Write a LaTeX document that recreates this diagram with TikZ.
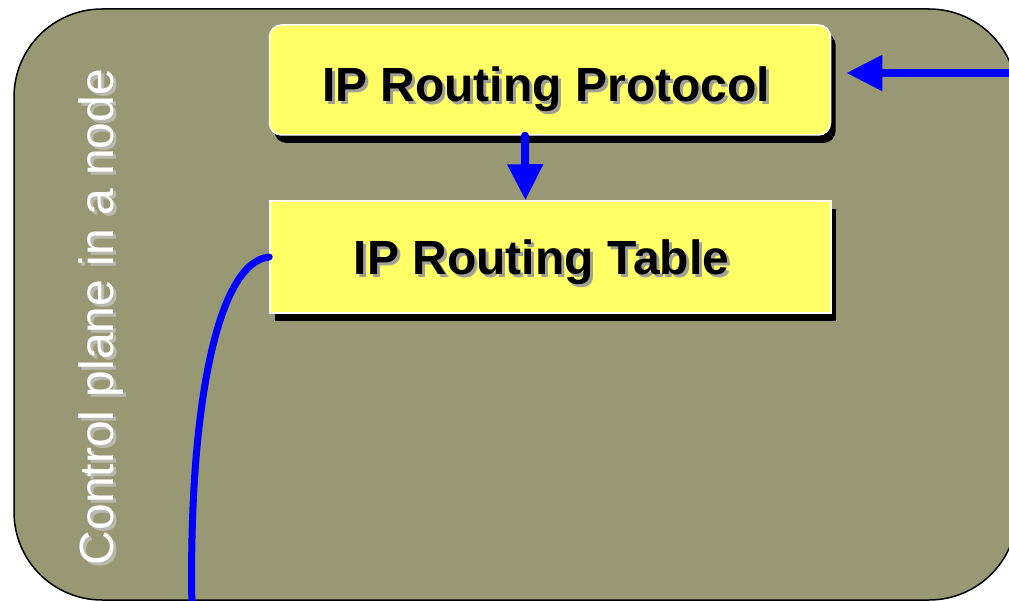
\documentclass[tikz,border=0pt]{standalone}
\usepackage{fontspec}
\setmainfont{Liberation Sans}
\usetikzlibrary{arrows.meta,calc}
\definecolor{panelolive}{RGB}{153,152,116}
\definecolor{boxyellow}{RGB}{255,255,102}
\definecolor{flowblue}{RGB}{0,0,255}
\definecolor{textshade}{RGB}{160,160,150}
\definecolor{sideshade}{RGB}{185,185,175}
% text with a small grey drop shadow behind it
\newcommand\shadedword[1]{\makebox[0pt][l]{\hspace{3pt}\raisebox{-3pt}{\textcolor{textshade}{#1}}}#1}

\begin{document}
\begin{tikzpicture}[x=1pt,y=-1pt,
  panel/.style={draw=black, line width=1.5pt, fill=panelolive, rounded corners=88pt},
  yellowbox/.style={draw=white, line width=1.5pt, fill=boxyellow,
    minimum width=561pt, inner sep=0pt,
    preaction={fill=black, transform canvas={xshift=5pt,yshift=-8pt}}},
  boxlabel/.style={font=\fontsize{48}{56}\selectfont\bfseries, anchor=base, inner sep=0pt},
  sidelabel/.style={font=\fontsize{48}{56}\selectfont, rotate=90, anchor=base, inner sep=0pt},
  flow/.style={draw=flowblue, line width=8pt, -{Triangle[length=36pt,width=34pt]}},
  feed/.style={draw=flowblue, line width=7pt, line cap=round}
]
\fill[white] (0,0) rectangle (1009,601);
\useasboundingbox (0,0) rectangle (1009,601);

% control-plane panel
\path[panel] (14,9) rectangle (1017,600);

% side caption
\node[sidelabel, text=sideshade] (captionshade) at (116,320) {Control plane in a node};
\node[sidelabel, text=white] (caption) at (113,317) {Control plane in a node};

% the two blocks
\node[yellowbox, rounded corners=12pt, minimum height=110pt] (proto) at (550,80) {};
\node[yellowbox, minimum height=112pt] (table) at (550.5,257) {};

\node[boxlabel] (protolabel) at ($(proto.center)+(-4,22)$) {\shadedword{IP Routing Protocol}};
\node[boxlabel] (tablelabel) at ($(table.center)+(-9,18)$) {\shadedword{IP Routing Table}};

% connectors
\coordinate (rin) at (1015,73);
\coordinate (down) at (192,610);
\draw[flow, shorten >=15pt] (rin) -- (proto.east |- rin);
\draw[flow, line cap=round] ([xshift=-25pt]proto.south) -- ([xshift=-25pt]table.north);
\draw[feed] (table.west) .. controls (215,262) and (188,420) .. (down);
\end{tikzpicture}
\end{document}
